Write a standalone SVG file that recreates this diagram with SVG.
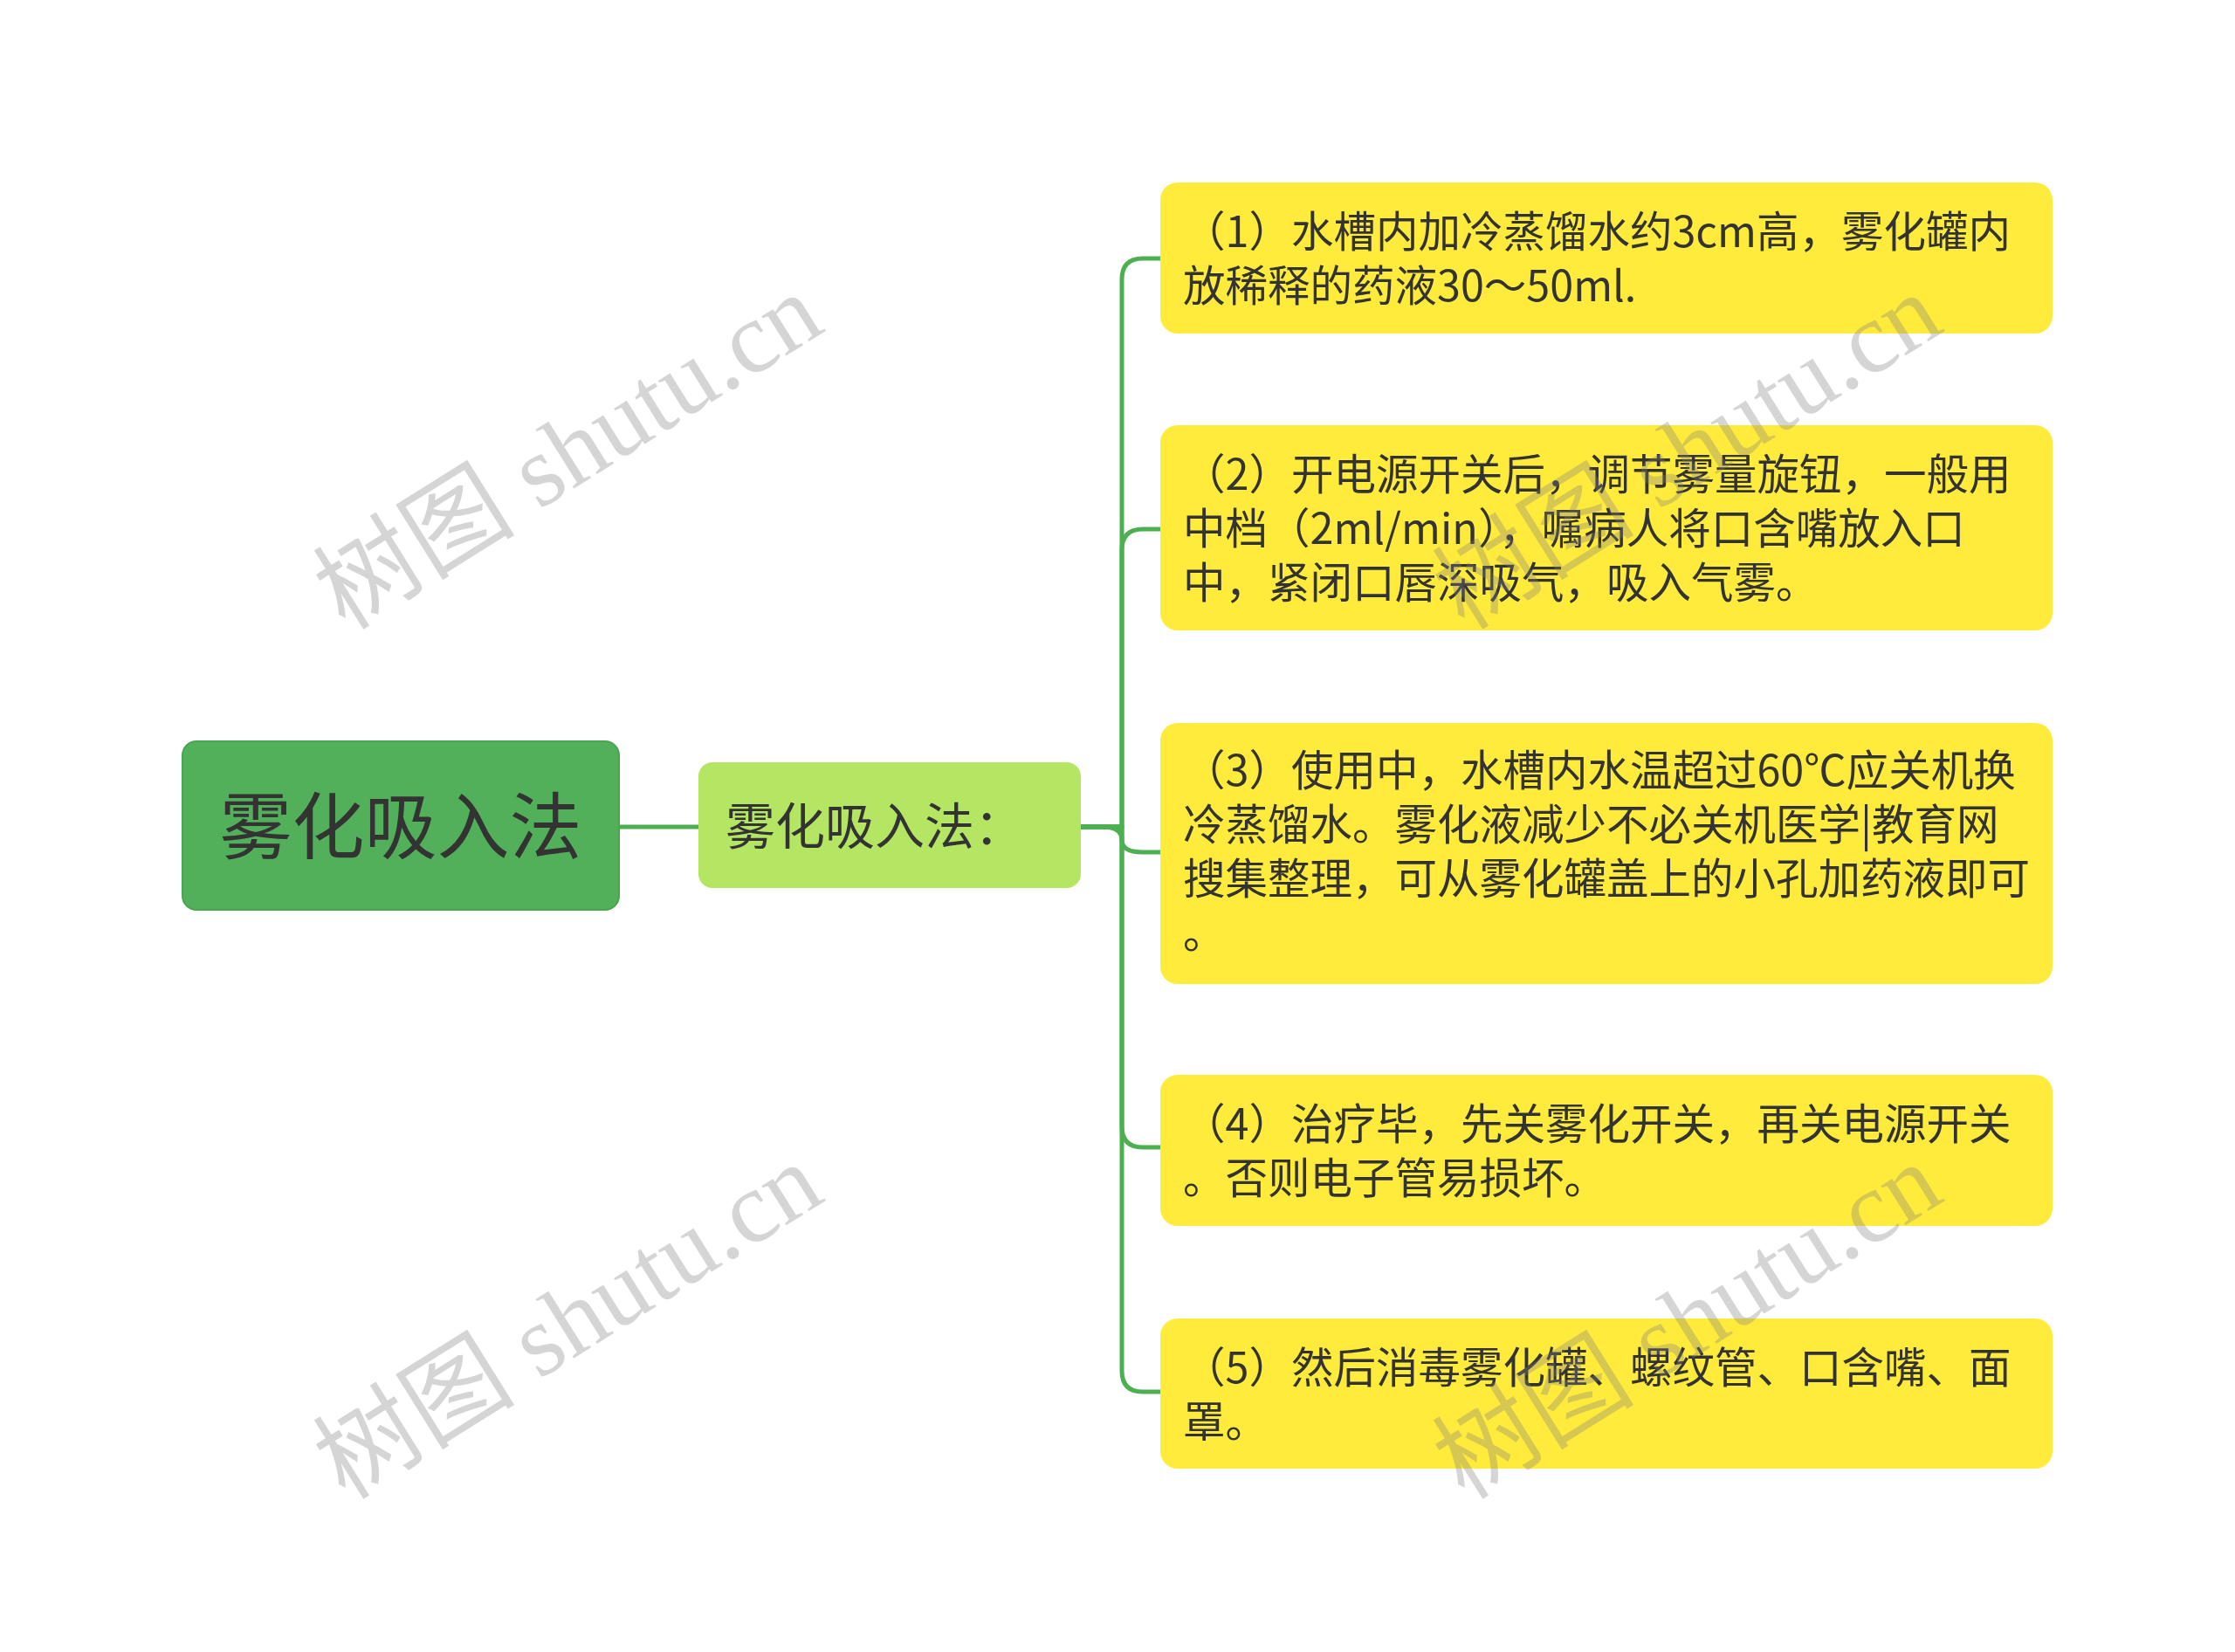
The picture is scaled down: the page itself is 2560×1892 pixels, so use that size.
<svg xmlns="http://www.w3.org/2000/svg" width="2560" height="1892" viewBox="0 0 2560 1892">
<style>
.leaf{fill:#ffeb3b;}
.lt{font-family:"Noto Sans CJK SC","Noto Sans",sans-serif;font-size:48.5px;fill:#333333;}
.conn{fill:none;stroke:#4caf50;stroke-width:5;stroke-linecap:round;stroke-linejoin:round;}
.wm{font-family:"Liberation Serif","Noto Sans CJK SC",serif;font-size:116px;fill:#808080;fill-opacity:0.33;text-anchor:middle;}
</style>
<rect width="2560" height="1892" fill="#ffffff"/>
<g id="connectors">
<path class="conn" d="M709,947 H800"/>
<path class="conn" d="M1238,947 H1285 V320 Q1285,296 1309,296 H1329"/>
<path class="conn" d="M1238,947 H1285 V630 Q1285,606 1309,606 H1329"/>
<path class="conn" d="M1238,947 H1262 Q1285,947 1285,962 Q1285,976 1309,976 H1329"/>
<path class="conn" d="M1238,947 H1285 V1290 Q1285,1314 1309,1314 H1329"/>
<path class="conn" d="M1238,947 H1285 V1570 Q1285,1594 1309,1594 H1329"/>
</g>
<g id="root">
<rect x="209" y="849" width="500" height="193" rx="16" fill="#52b05a" stroke="#48a650" stroke-width="2"/>
<text x="459" y="977" font-family="'Noto Sans CJK SC',sans-serif" font-size="83" fill="#333333" text-anchor="middle">雾化吸入法</text>
</g>
<g id="level1">
<rect x="800" y="873" width="438" height="144" rx="16" fill="#b4e563"/>
<text x="831" y="967" font-family="'Noto Sans CJK SC',sans-serif" font-size="57" fill="#333333">雾化吸入法：</text>
</g>
<g id="leaf1">
<rect class="leaf" x="1329" y="209" width="1022" height="173" rx="20"/>
<text class="lt"><tspan x="1355" y="283">（1）水槽内加冷蒸馏水约3cm高，雾化罐内</tspan><tspan x="1355" y="345">放稀释的药液30～50ml.</tspan></text>
</g>
<g id="leaf2">
<rect class="leaf" x="1329" y="487" width="1022" height="235" rx="20"/>
<text class="lt"><tspan x="1355" y="561">（2）开电源开关后，调节雾量旋钮，一般用</tspan><tspan x="1355" y="623">中档（2ml/min），嘱病人将口含嘴放入口</tspan><tspan x="1355" y="685">中，紧闭口唇深吸气，吸入气雾。</tspan></text>
</g>
<g id="leaf3">
<rect class="leaf" x="1329" y="828" width="1022" height="299" rx="20"/>
<text class="lt"><tspan x="1355" y="900">（3）使用中，水槽内水温超过60℃应关机换</tspan><tspan x="1355" y="962">冷蒸馏水。雾化液减少不必关机医学|教育网</tspan><tspan x="1355" y="1024">搜集整理，可从雾化罐盖上的小孔加药液即可</tspan><tspan x="1355" y="1086">。</tspan></text>
</g>
<g id="leaf4">
<rect class="leaf" x="1329" y="1231" width="1022" height="173" rx="20"/>
<text class="lt"><tspan x="1355" y="1305">（4）治疗毕，先关雾化开关，再关电源开关</tspan><tspan x="1355" y="1367">。否则电子管易损坏。</tspan></text>
</g>
<g id="leaf5">
<rect class="leaf" x="1329" y="1510" width="1022" height="172" rx="20"/>
<text class="lt"><tspan x="1355" y="1584">（5）然后消毒雾化罐、螺纹管、口含嘴、面</tspan><tspan x="1355" y="1646">罩。</tspan></text>
</g>
<g id="watermarks">
<text class="wm" transform="translate(650,516) rotate(-32)" dy="0.35em">树图 shutu.cn</text>
<text class="wm" transform="translate(1932,516) rotate(-32)" dy="0.35em">树图 shutu.cn</text>
<text class="wm" transform="translate(650,1512) rotate(-32)" dy="0.35em">树图 shutu.cn</text>
<text class="wm" transform="translate(1932,1512) rotate(-32)" dy="0.35em">树图 shutu.cn</text>
</g>
</svg>
